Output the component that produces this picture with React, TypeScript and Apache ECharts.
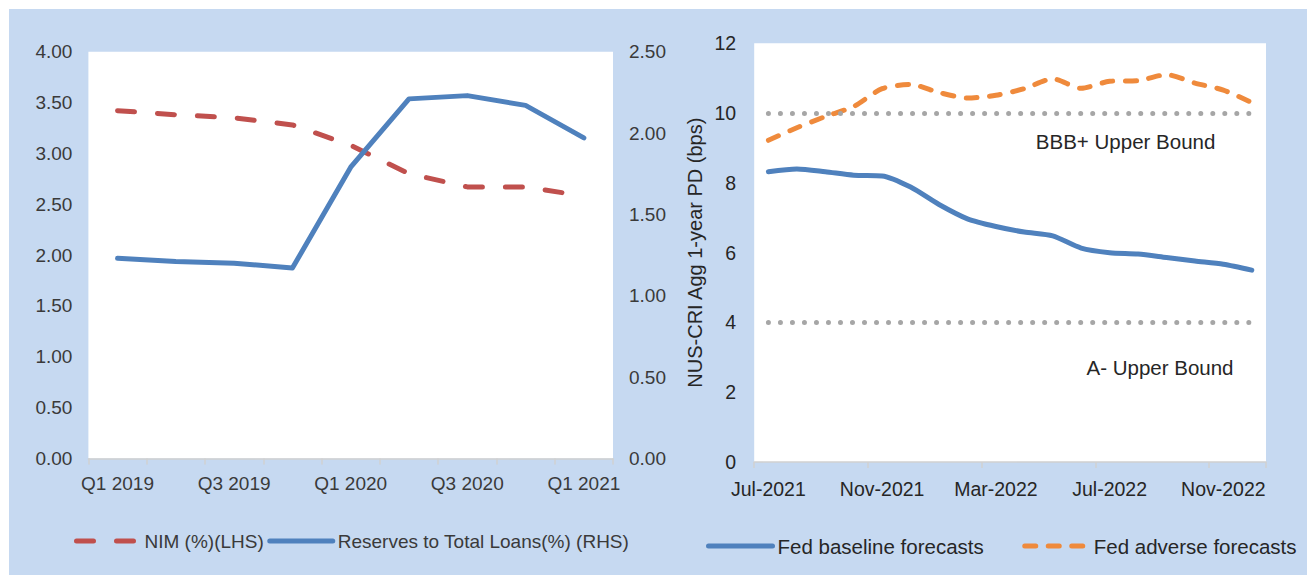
import React, { useEffect, useRef } from 'react';
import * as echarts from 'echarts';

const quarters = ['Q1 2019', 'Q2 2019', 'Q3 2019', 'Q4 2019', 'Q1 2020', 'Q2 2020', 'Q3 2020', 'Q4 2020', 'Q1 2021'];
const nimLHS = [3.42, 3.38, 3.35, 3.28, 3.08, 2.8, 2.67, 2.67, 2.58];
const reservesRHS = [1.23, 1.21, 1.2, 1.17, 1.79, 2.21, 2.23, 2.17, 1.97];
const leftTicks = [0, 0.5, 1, 1.5, 2, 2.5, 3, 3.5, 4];
const rightTicks = [0, 0.5, 1, 1.5, 2, 2.5];

const months = [
  'Jul-2021', 'Aug-2021', 'Sep-2021', 'Oct-2021', 'Nov-2021', 'Dec-2021',
  'Jan-2022', 'Feb-2022', 'Mar-2022', 'Apr-2022', 'May-2022', 'Jun-2022',
  'Jul-2022', 'Aug-2022', 'Sep-2022', 'Oct-2022', 'Nov-2022', 'Dec-2022',
];
const fedBaseline = [8.32, 8.4, 8.32, 8.22, 8.2, 7.88, 7.38, 6.97, 6.75, 6.59, 6.48, 6.13, 6.0, 5.96, 5.86, 5.76, 5.67, 5.5];
const fedAdverse = [9.22, 9.58, 9.9, 10.19, 10.7, 10.82, 10.59, 10.43, 10.51, 10.7, 10.98, 10.71, 10.91, 10.93, 11.1, 10.86, 10.66, 10.3];
const bbbUpperBound = 10;
const aUpperBound = 4;
const pdTicks = [0, 2, 4, 6, 8, 10, 12];

const FONT = '"Liberation Sans", Arial, sans-serif';
const BG = '#C6D9F1';

export default function App() {
  const ref = useRef<HTMLDivElement>(null);

  useEffect(() => {
    if (!ref.current) return;
    const chart = echarts.init(ref.current, undefined, { renderer: 'svg' });
    const leftText = '#3A3A3A';
    const rightText = '#262626';
    const axisLineStyle = { color: '#D0D0D0', width: 1.5 };
    const option: any = {
      animation: false,
      textStyle: { fontFamily: FONT },
      grid: [
        { left: 88.4, top: 51.7, width: 524.6, height: 406.7, show: true, backgroundColor: '#FFFFFF', borderWidth: 0 },
        { left: 754.2, top: 43.3, width: 511.8, height: 418.7, show: true, backgroundColor: '#FFFFFF', borderWidth: 0 },
      ],
      xAxis: [
        {
          type: 'category', gridIndex: 0, data: quarters, boundaryGap: true,
          axisLine: { lineStyle: axisLineStyle },
          axisTick: { show: true, interval: 0, length: 6, lineStyle: axisLineStyle },
          axisLabel: { interval: 1, margin: 16, fontSize: 19, color: leftText, fontFamily: FONT },
          splitLine: { show: false },
        },
        {
          type: 'category', gridIndex: 1, data: months, boundaryGap: true,
          axisLine: { lineStyle: axisLineStyle },
          axisTick: { show: true, interval: 3, length: 6, lineStyle: axisLineStyle },
          axisLabel: { interval: 3, margin: 17, fontSize: 19.5, color: rightText, fontFamily: FONT },
          splitLine: { show: false },
        },
      ],
      yAxis: [
        {
          type: 'value', gridIndex: 0, min: leftTicks[0], max: leftTicks[leftTicks.length - 1], interval: 0.5,
          axisLine: { show: false }, axisTick: { show: false }, splitLine: { show: false },
          axisLabel: { margin: 16, fontSize: 19, color: leftText, fontFamily: FONT, formatter: (v: number) => v.toFixed(2) },
        },
        {
          type: 'value', gridIndex: 0, position: 'right', min: rightTicks[0], max: rightTicks[rightTicks.length - 1], interval: 0.5,
          axisLine: { show: false }, axisTick: { show: false }, splitLine: { show: false },
          axisLabel: { margin: 16, fontSize: 19, color: leftText, fontFamily: FONT, formatter: (v: number) => v.toFixed(2) },
        },
        {
          type: 'value', gridIndex: 1, min: pdTicks[0], max: pdTicks[pdTicks.length - 1], interval: 2,
          axisLine: { show: false }, axisTick: { show: false }, splitLine: { show: false },
          axisLabel: { margin: 18, fontSize: 19.5, color: rightText, fontFamily: FONT },
          name: 'NUS-CRI Agg 1-year PD (bps)', nameLocation: 'middle', nameGap: 49, nameRotate: 90,
          nameTextStyle: { fontSize: 20, color: rightText, fontFamily: FONT },
        },
      ],
      legend: [
        {
          left: 74, top: 531, padding: 0, itemWidth: 63, itemHeight: 12, itemGap: 3.5,
          data: ['NIM (%)(LHS)', 'Reserves to Total Loans(%) (RHS)'],
          textStyle: { fontSize: 19, color: leftText, fontFamily: FONT, lineHeight: 20 },
          lineStyle: { width: 5 },
          itemStyle: { opacity: 0 },
          selectedMode: false,
        },
        {
          left: 706, top: 535.5, padding: 0, itemWidth: 64, itemHeight: 12, itemGap: 38.5,
          data: ['Fed baseline forecasts', 'Fed adverse forecasts'],
          textStyle: { fontSize: 20.5, color: rightText, fontFamily: FONT, lineHeight: 21 },
          lineStyle: { width: 5 },
          itemStyle: { opacity: 0 },
          selectedMode: false,
        },
      ],
      series: [
        {
          name: 'NIM (%)(LHS)', type: 'line', xAxisIndex: 0, yAxisIndex: 0, data: nimLHS, symbol: 'none',
          lineStyle: { color: '#C0504D', width: 5, type: [17, 23], cap: 'round', join: 'round' },
          itemStyle: { color: '#C0504D' },
        },
        {
          name: 'Reserves to Total Loans(%) (RHS)', type: 'line', xAxisIndex: 0, yAxisIndex: 1, data: reservesRHS, symbol: 'none',
          lineStyle: { color: '#4F81BD', width: 5, cap: 'round', join: 'round' },
          itemStyle: { color: '#4F81BD' },
        },
        {
          name: 'Fed baseline forecasts', type: 'line', xAxisIndex: 1, yAxisIndex: 2, data: fedBaseline, symbol: 'none', smooth: 0.25,
          lineStyle: { color: '#4F81BD', width: 5, cap: 'round', join: 'round' },
          itemStyle: { color: '#4F81BD' },
          z: 3,
          markLine: {
            silent: true, symbol: ['none', 'none'], label: { show: false },
            lineStyle: { color: '#A6A6A6', width: 5, type: [0.01, 12], cap: 'round' },
            emphasis: { disabled: true },
            data: [
              [{ coord: [0, bbbUpperBound] }, { coord: [months.length - 1, bbbUpperBound] }],
              [{ coord: [0, aUpperBound] }, { coord: [months.length - 1, aUpperBound] }],
            ],
          },
        },
        {
          name: 'Fed adverse forecasts', type: 'line', xAxisIndex: 1, yAxisIndex: 2, data: fedAdverse, symbol: 'none', smooth: 0.25,
          lineStyle: { color: '#EF8A3C', width: 5, type: [11, 12.5], cap: 'round', join: 'round' },
          itemStyle: { color: '#EF8A3C' },
          z: 4,
        },
      ],
      graphic: [
        {
          type: 'text', x: 1125.6, y: 141, silent: true,
          style: { text: 'BBB+ Upper Bound', fontSize: 20.5, fontFamily: FONT, fill: rightText, align: 'center', verticalAlign: 'middle' },
        },
        {
          type: 'text', x: 1160, y: 367, silent: true,
          style: { text: 'A- Upper Bound', fontSize: 20.5, fontFamily: FONT, fill: rightText, align: 'center', verticalAlign: 'middle' },
        },
      ],
    };
    chart.setOption(option);
    return () => chart.dispose();
  }, []);

  return (
    <div style={{ position: 'fixed', left: 0, top: 0, width: 1307, height: 575, background: '#FFFFFF', overflow: 'hidden' }}>
      <div style={{ position: 'absolute', left: 9, top: 9, width: 1298, height: 566, background: BG }} />
      <div ref={ref} style={{ position: 'absolute', left: 0, top: 0, width: 1307, height: 575 }} />
    </div>
  );
}
